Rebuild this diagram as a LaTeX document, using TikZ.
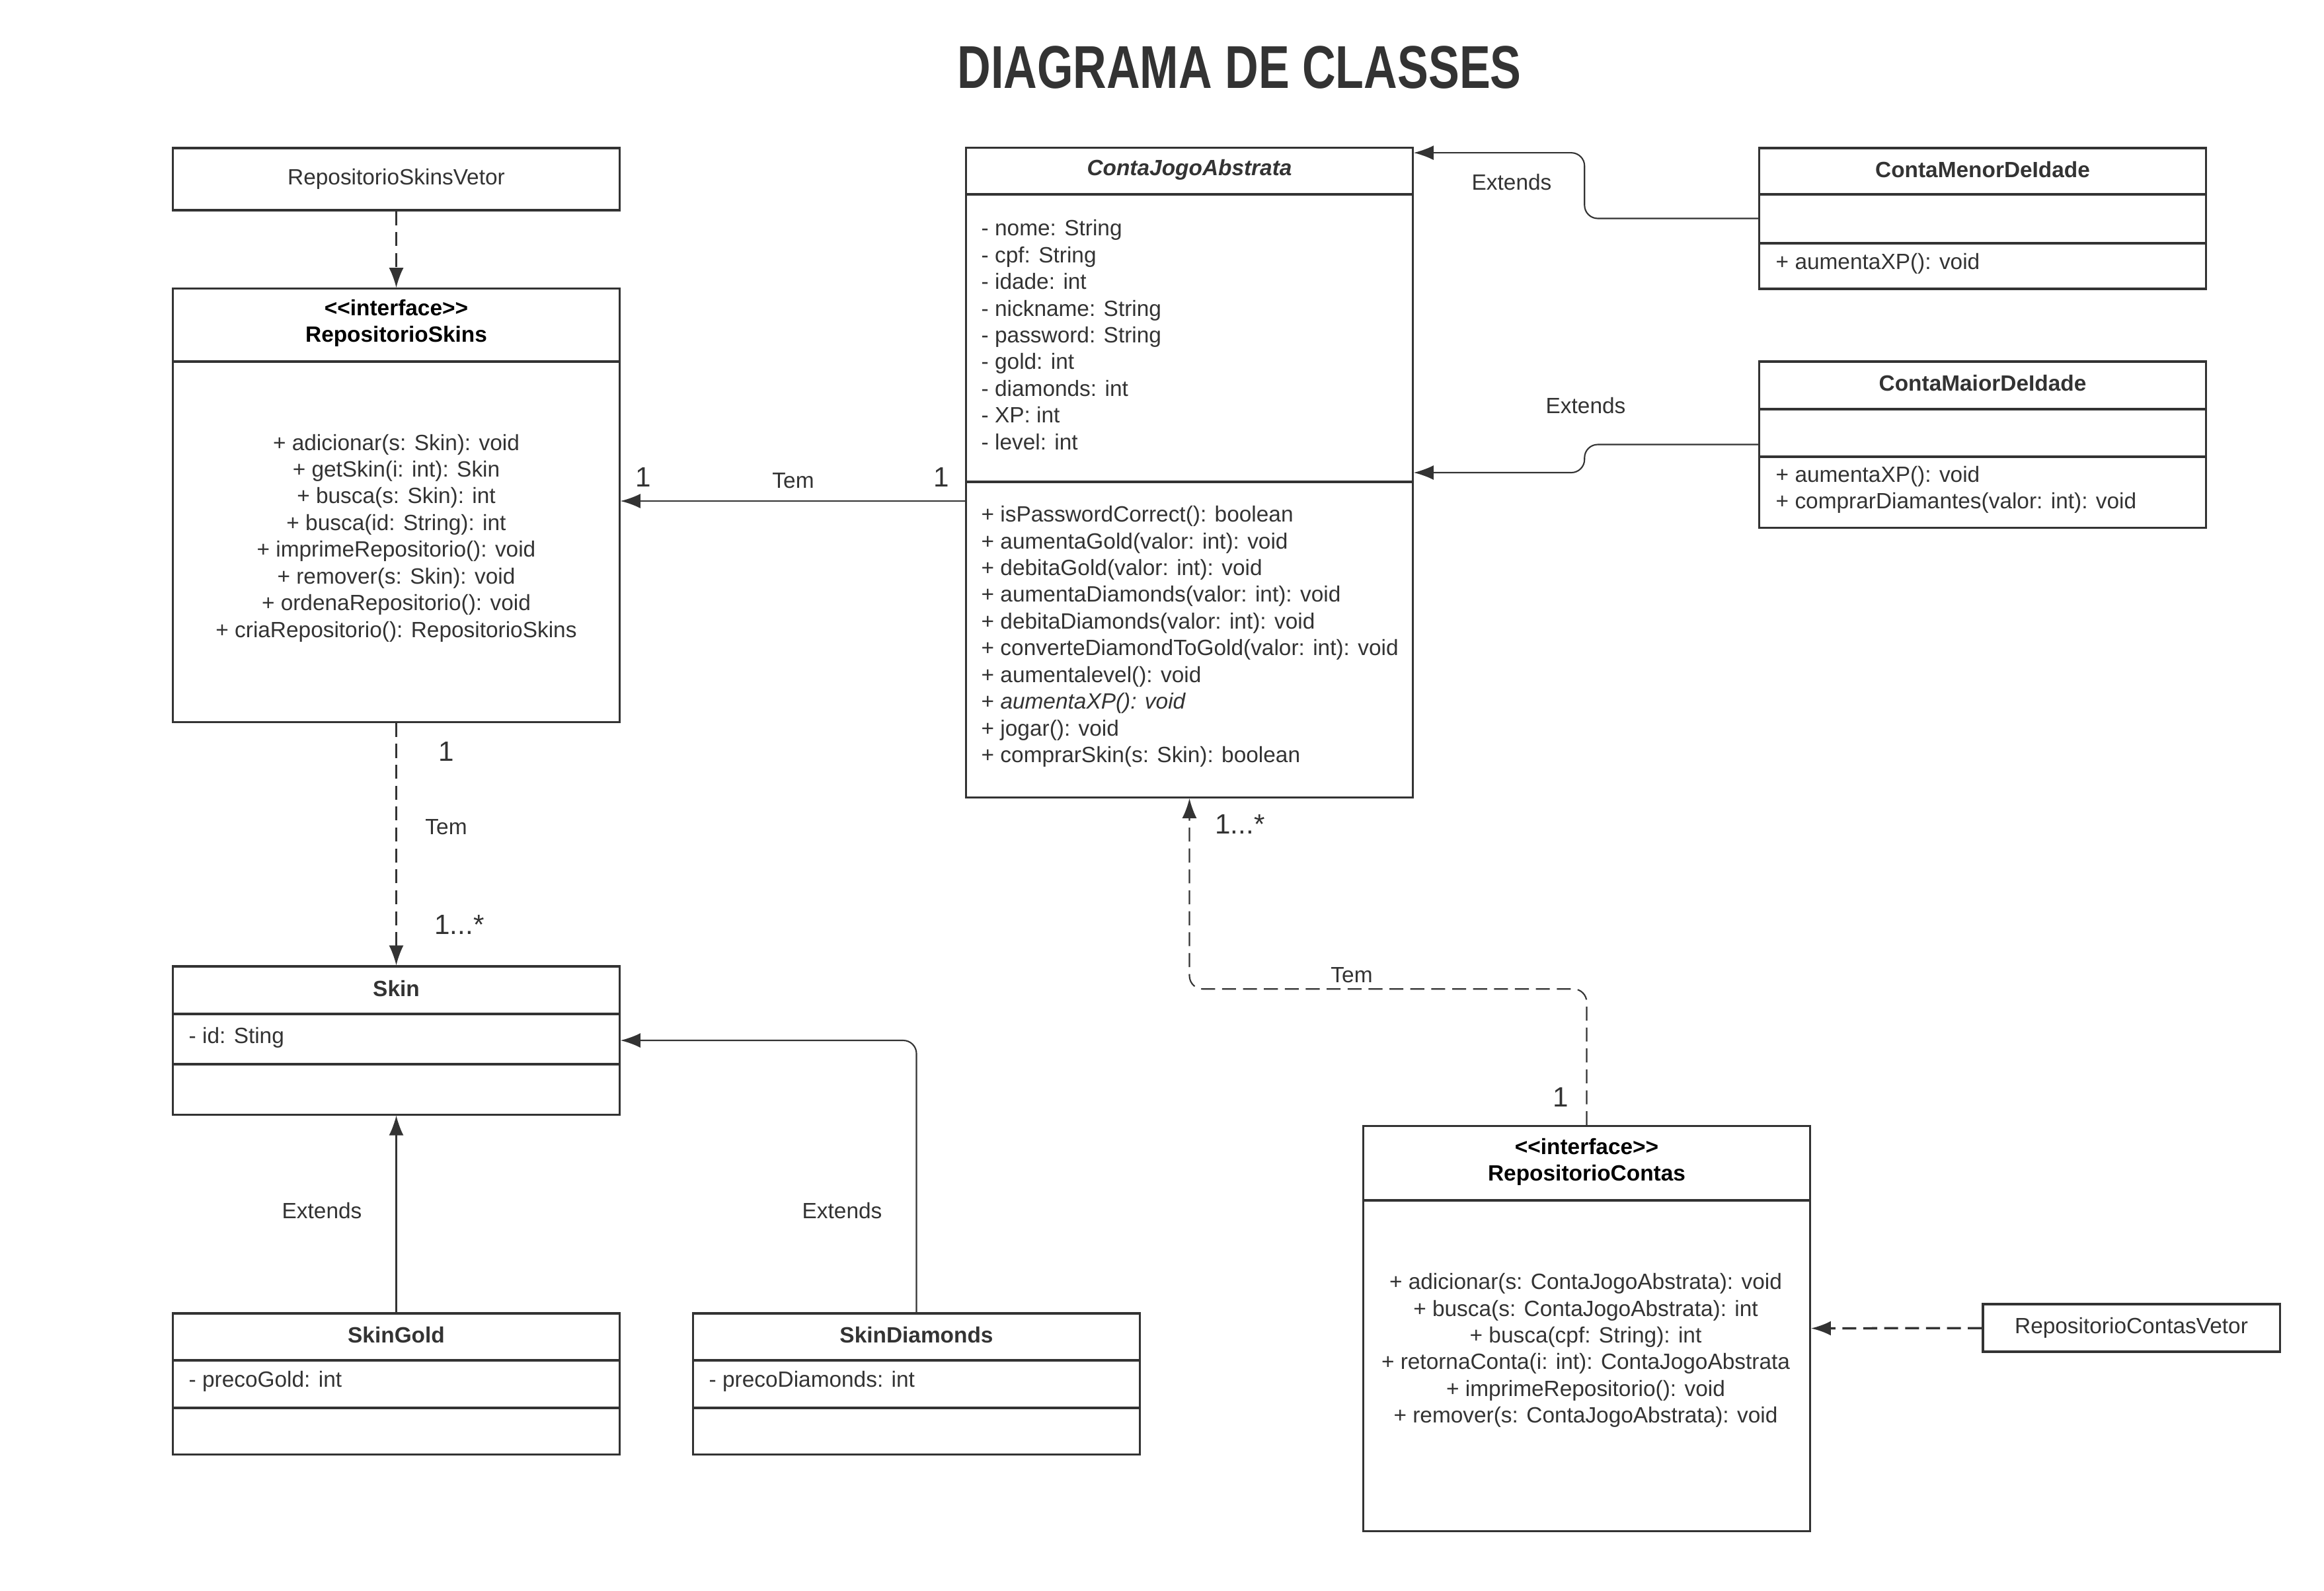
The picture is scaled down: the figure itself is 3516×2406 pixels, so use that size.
\documentclass[tikz,border=0pt]{standalone}
\usepackage{fontspec}
\setmainfont{Liberation Sans}
\usetikzlibrary{arrows.meta}
\definecolor{ink}{HTML}{333333}

\begin{document}
\begin{tikzpicture}[x=0.01cm, y=-0.01cm,
        font=\fontsize{9.5}{11.5}\selectfont, text=ink,
        classe/.style={draw=ink, line width=0.9pt, minimum width=6.75cm, inner sep=0pt},
        sep/.style={draw=ink, line width=0.9pt},
        titcl/.style={font=\bfseries\fontsize{9.5}{11.5}\selectfont},
        lista/.style={align=left, anchor=west, inner sep=0pt},
        lig/.style={draw=ink, line width=0.6pt, >={Latex[length=0.3cm, width=0.22cm]}},
        trac/.style={lig, dash pattern=on 6pt off 3pt},
        mult/.style={font=\fontsize{12}{14}\selectfont}]
        \fill[white] (0,0) rectangle (3516,2406);
        \useasboundingbox (0,0) rectangle (3516,2406);

        \node[font=\bfseries\fontsize{26}{30}\selectfont, xscale=0.767] (titulo) at (1875,102) {DIAGRAMA DE CLASSES};

        % repositorio de skins
        \node[classe, minimum height=0.94cm] (rsv) at (599.5,271) {RepositorioSkinsVetor};
        \node[classe, minimum height=6.55cm] (rs) at (599.5,764.5) {};
        \draw[sep] (rs.west |- 0,547) -- (rs.east |- 0,547);
        \node[titcl, align=center, text=black] (rstit) at (599.5,489) {<{}<interface>{}>\\RepositorioSkins};
        \node[align=center] (rsmet) at (599.5,814) {+ adicionar(s: Skin): void\\+ getSkin(i: int): Skin\\+ busca(s: Skin): int\\+ busca(id: String): int\\+ imprimeRepositorio(): void\\+ remover(s: Skin): void\\+ ordenaRepositorio(): void\\+ criaRepositorio(): RepositorioSkins};

        % conta abstrata
        \node[classe, minimum height=9.82cm] (cja) at (1799.5,715) {};
        \draw[sep] (cja.west |- 0,294) -- (cja.east |- 0,294);
        \draw[sep] (cja.west |- 0,729) -- (cja.east |- 0,729);
        \node[titcl, font=\bfseries\itshape\fontsize{9.5}{11.5}\selectfont] (cjatit) at (1799.5,257) {ContaJogoAbstrata};
        \node[lista] (cjaatr) at (1484,506.5) {- nome: String\\- cpf: String\\- idade: int\\- nickname: String\\- password: String\\- gold: int\\- diamonds: int\\- XP: int\\- level: int};
        \node[lista] (cjamet) at (1484,963) {+ isPasswordCorrect(): boolean\\+ aumentaGold(valor: int): void\\+ debitaGold(valor: int): void\\+ aumentaDiamonds(valor: int): void\\+ debitaDiamonds(valor: int): void\\+ converteDiamondToGold(valor: int): void\\+ aumentalevel(): void\\+ \textit{aumentaXP(): void}\\+ jogar(): void\\+ comprarSkin(s: Skin): boolean};

        % contas concretas
        \node[classe, minimum height=2.13cm] (cmenor) at (2999.5,330.5) {};
        \draw[sep] (cmenor.west |- 0,294) -- (cmenor.east |- 0,294);
        \draw[sep] (cmenor.west |- 0,368) -- (cmenor.east |- 0,368);
        \node[titcl] (cmenortit) at (2999.5,257) {ContaMenorDeIdade};
        \node[lista] (cmenormet) at (2686,399) {+ aumentaXP(): void};

        \node[classe, minimum height=2.51cm] (cmaior) at (2999.5,672.5) {};
        \draw[sep] (cmaior.west |- 0,619) -- (cmaior.east |- 0,619);
        \draw[sep] (cmaior.west |- 0,691) -- (cmaior.east |- 0,691);
        \node[titcl] (cmaiortit) at (2999.5,580) {ContaMaiorDeIdade};
        \node[lista] (cmaiormet) at (2686,741) {+ aumentaXP(): void\\+ comprarDiamantes(valor: int): void};

        % skins
        \node[classe, minimum height=2.24cm] (skin) at (599.5,1574) {};
        \draw[sep] (skin.west |- 0,1534) -- (skin.east |- 0,1534);
        \draw[sep] (skin.west |- 0,1610) -- (skin.east |- 0,1610);
        \node[titcl] (skintit) at (599.5,1496) {Skin};
        \node[lista] (skinatr) at (285,1570) {- id: Sting};

        \node[classe, minimum height=2.13cm] (sgold) at (599.5,2093.5) {};
        \draw[sep] (sgold.west |- 0,2058) -- (sgold.east |- 0,2058);
        \draw[sep] (sgold.west |- 0,2130) -- (sgold.east |- 0,2130);
        \node[titcl] (sgoldtit) at (599.5,2020) {SkinGold};
        \node[lista] (sgoldatr) at (285,2090) {- precoGold: int};

        \node[classe, minimum height=2.13cm] (sdiam) at (1386.5,2093.5) {};
        \draw[sep] (sdiam.west |- 0,2058) -- (sdiam.east |- 0,2058);
        \draw[sep] (sdiam.west |- 0,2130) -- (sdiam.east |- 0,2130);
        \node[titcl] (sdiamtit) at (1386.5,2020) {SkinDiamonds};
        \node[lista] (sdiamatr) at (1072,2090) {- precoDiamonds: int};

        % repositorio de contas
        \node[classe, minimum height=6.12cm] (rc) at (2400.5,2010) {};
        \draw[sep] (rc.west |- 0,1816) -- (rc.east |- 0,1816);
        \node[titcl, align=center, text=black] (rctit) at (2400.5,1758) {<{}<interface>{}>\\RepositorioContas};
        \node[align=center] (rcmet) at (2399,2043) {+ adicionar(s: ContaJogoAbstrata): void\\+ busca(s: ContaJogoAbstrata): int\\+ busca(cpf: String): int\\+ retornaConta(i: int): ContaJogoAbstrata\\+ imprimeRepositorio(): void\\+ remover(s: ContaJogoAbstrata): void};
        \node[classe, minimum width=4.49cm, minimum height=0.72cm] (rcv) at (3224.5,2009) {RepositorioContasVetor};

        % ligacoes
        \draw[trac, ->] (rsv) -- (rs);
        \draw[lig, ->] (cja.west |- 0,758) -- (rs.east |- 0,758);
        \draw[trac, ->] (rs) -- (skin);
        \draw[lig, ->] (sgold) -- (skin);
        \draw[lig, ->, rounded corners=0.2cm] (sdiam.north) |- (skin.east);
        \draw[lig, ->, rounded corners=0.2cm] (cmenor.west) -- ++(-263,0) |- ([yshift=-0.09cm]cja.north east);
        \draw[lig, ->, rounded corners=0.2cm] (cmaior.west) -- ++(-263,0) |- (cja.east);
        \draw[trac, ->, rounded corners=0.2cm] (rc.north) -- ++(0,-206) -| (cja.south);
        \draw[trac, line width=1pt, ->] (rcv) -- (rc);

        % rotulos
        \node[mult] (m1a) at (973,722) {1};
        \node (tem1) at (1200,727) {Tem};
        \node[mult] (m1b) at (1424,722) {1};
        \node[mult] (m2a) at (675,1137) {1};
        \node (tem2) at (675,1251) {Tem};
        \node[mult] (m2b) at (695,1399) {1...*};
        \node (ext1) at (487,1832) {Extends};
        \node (ext2) at (1274,1832) {Extends};
        \node (ext3) at (2287,276) {Extends};
        \node (ext4) at (2399,614) {Extends};
        \node[mult] (m3a) at (1876,1247) {1...*};
        \node (tem3) at (2045,1475) {Tem};
        \node[mult] (m3b) at (2361,1660) {1};
        \end{tikzpicture}
\end{document}
